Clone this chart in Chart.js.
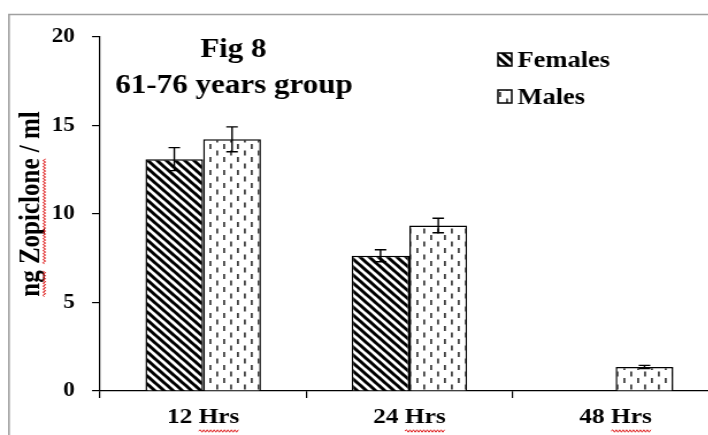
<!DOCTYPE html>
<html>
<head>
<meta charset="utf-8">
<script src="https://cdn.jsdelivr.net/npm/chart.js@4.4.1/dist/chart.umd.min.js"></script>
<style>
  html, body { margin: 0; padding: 0; background: #fff; overflow: hidden; width: 708px; height: 435px; }
  /* the reference text is a little wide, so the whole chart is stretched sideways */
  #wrap { position: absolute; left: 0; top: 0; transform: scaleX(1.15); transform-origin: 0 0; }
  canvas { display: block; }
</style>
</head>
<body>
<div id="wrap"><canvas id="chart" width="640" height="435"></canvas></div>
<script>
const timeLabels = ['12 Hrs', '24 Hrs', '48 Hrs'];
const females = [13.1, 7.64, null];
const males = [14.22, 9.35, 1.36];
const femaleErr = [0.65, 0.34, null];
const maleErr = [0.7, 0.41, 0.09];
const yTicks = [0, 5, 10, 15, 20];

const FONT = "'Liberation Serif', 'Times New Roman', serif";

// Fill patterns
function stripePattern() {
    const c = document.createElement('canvas');
    c.width = 8; c.height = 8;
    const g = c.getContext('2d');
    g.fillStyle = '#fff';
    g.fillRect(0, 0, 8, 8);
    g.strokeStyle = '#000';
    g.lineWidth = 3;
    [-8, 0, 8].forEach(o => {
        g.beginPath();
        g.moveTo(o - 1, -1);
        g.lineTo(o + 9, 9);
        g.stroke();
    });
    return g.createPattern(c, 'repeat');
}

function dashPattern() {
    const c = document.createElement('canvas');
    c.width = 12; c.height = 13;
    const g = c.getContext('2d');
    g.fillStyle = '#fff';
    g.fillRect(0, 0, 12, 13);
    g.fillStyle = '#444';
    g.fillRect(2, 1, 1.8, 5);
    g.fillRect(8, 7.5, 1.8, 5);
    return g.createPattern(c, 'repeat');
}

const femaleFill = stripePattern();
const maleFill = dashPattern();

function squiggle(ctx, x0, x1, y) {
    ctx.save();
    ctx.strokeStyle = '#e02020';
    ctx.lineWidth = 1;
    ctx.beginPath();
    let up = true;
    ctx.moveTo(x0, y);
    for (let x = x0 + 1.5; x <= x1; x += 1.5) {
        ctx.lineTo(x, up ? y - 1.2 : y + 1.2);
        up = !up;
    }
    ctx.stroke();
    ctx.restore();
}

const decor = {
    id: 'decor',
    beforeDraw(chart) {
        const ctx = chart.ctx;
        ctx.save();
        ctx.fillStyle = '#fff';
        ctx.fillRect(0, 0, chart.width, chart.height);
        ctx.strokeStyle = '#a0a0a0';
        ctx.lineWidth = 1.6;
        ctx.beginPath();
        ctx.moveTo(7.8, chart.height);
        ctx.lineTo(7.8, 14.5);
        ctx.lineTo(chart.width, 14.5);
        ctx.stroke();
        ctx.restore();
    },
    afterDatasetsDraw(chart) {
        const ctx = chart.ctx;
        const y = chart.scales.y;
        ctx.save();
        ctx.strokeStyle = '#000';
        ctx.lineWidth = 1.4;
        chart.data.datasets.forEach((ds, i) => {
            const meta = chart.getDatasetMeta(i);
            meta.data.forEach((bar, j) => {
                const v = ds.data[j], e = ds.errors[j];
                if (v == null || e == null) return;
                const top = y.getPixelForValue(v + e);
                const bot = y.getPixelForValue(v - e);
                ctx.beginPath();
                ctx.moveTo(bar.x, top); ctx.lineTo(bar.x, bot);
                ctx.moveTo(bar.x - 5, top); ctx.lineTo(bar.x + 5, top);
                ctx.moveTo(bar.x - 5, bot); ctx.lineTo(bar.x + 5, bot);
                ctx.stroke();
            });
        });
        ctx.restore();
    },
    afterDraw(chart) {
        const ctx = chart.ctx;
        ctx.save();
        ctx.fillStyle = '#000';
        ctx.textAlign = 'center';
        ctx.textBaseline = 'alphabetic';
        ctx.font = 'bold 27px ' + FONT;
        ctx.fillText('Fig 8', 203, 57);
        ctx.fillText('61-76 years group', 203.5, 93);

        // legend
        ctx.textAlign = 'left';
        ctx.font = 'bold 23px ' + FONT;
        const rows = [[femaleFill, 'Females', 66.5], [maleFill, 'Males', 103.5]];
        chart.data.datasets.forEach((ds, i) => {
            const by = rows[i][2] - 13.5;
            ctx.fillStyle = i === 0 ? femaleFill : maleFill;
            ctx.fillRect(433, by, 12, 13);
            ctx.strokeStyle = '#000';
            ctx.lineWidth = 1.5;
            ctx.strokeRect(433, by, 12, 13);
            ctx.fillStyle = '#000';
            ctx.fillText(ds.label, 450, rows[i][2]);
        });

        // y axis title
        const yt = 'ng Zopiclone / ml';
        ctx.font = 'bold 25px ' + FONT;
        ctx.translate(27.5, 204);
        ctx.rotate(-Math.PI / 2);
        ctx.textAlign = 'center';
        ctx.textBaseline = 'middle';
        ctx.fillText(yt, 0, 0);
        const full = ctx.measureText(yt).width;
        const start = -full / 2;
        const wNg = ctx.measureText('ng').width;
        const wZ = ctx.measureText('ng Zopiclone').width;
        const wSp = ctx.measureText('ng ').width;
        squiggle(ctx, start, start + wNg, 11);
        squiggle(ctx, start + wSp, start + wZ, 11);
        ctx.restore();

        // spelling marks under "Hrs"
        const xs = chart.scales.x;
        ctx.save();
        ctx.font = 'bold 22px ' + FONT;
        timeLabels.forEach((lab, i) => {
            const cx = xs.getPixelForValue(i);
            const w = ctx.measureText(lab).width;
            const w0 = ctx.measureText(lab.split(' ')[0] + ' ').width;
            squiggle(ctx, cx - w / 2 + w0, cx + w / 2, 431);
        });
        ctx.restore();
    }
};

const tickFont = { family: FONT, size: 20, weight: 'bold' };

new Chart(document.getElementById('chart'), {
    type: 'bar',
    data: {
        labels: timeLabels,
        datasets: [
            { label: 'Females', data: females, errors: femaleErr, backgroundColor: femaleFill, borderColor: '#000', borderWidth: 1.5 },
            { label: 'Males', data: males, errors: maleErr, backgroundColor: maleFill, borderColor: '#000', borderWidth: 1.5 }
        ]
    },
    options: {
        responsive: false,
        animation: false,
        layout: { padding: { top: 37, right: 15, left: 0, bottom: 0 } },
        datasets: { bar: { barPercentage: 1, categoryPercentage: 0.56 } },
        plugins: { legend: { display: false }, tooltip: { enabled: false } },
        scales: {
            x: {
                grid: { offset: true, drawOnChartArea: false, tickLength: 7, color: '#000', lineWidth: 1.2 },
                border: { color: '#000', width: 1.2 },
                ticks: { color: '#000', font: { family: FONT, size: 22, weight: 'bold' }, padding: 6 },
                afterFit: s => { s.height = 44; }
            },
            y: {
                min: 0, max: 20,
                afterBuildTicks: s => { s.ticks = yTicks.map(v => ({ value: v })); },
                grid: { drawOnChartArea: false, tickLength: 7, color: '#000', lineWidth: 1.2 },
                border: { color: '#000', width: 1.2 },
                ticks: { color: '#000', font: tickFont, padding: 15 },
                afterFit: s => { s.width = 87; }
            }
        }
    },
    plugins: [decor]
});
</script>
</body>
</html>
